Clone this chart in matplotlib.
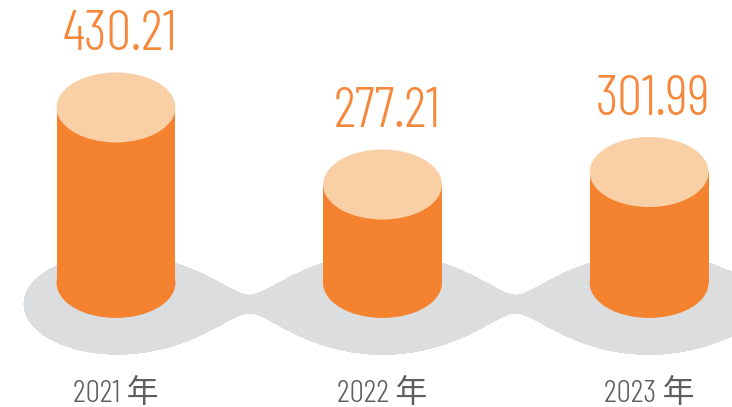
import matplotlib.pyplot as plt
import numpy as np
from matplotlib.patches import Ellipse, Rectangle

years = ["2021 年", "2022 年", "2023 年"]
values = [430.21, 277.21, 301.99]
labels = ["430.21", "277.21", "301.99"]

orange = "#F4822F"
peach = "#F9D0A6"
grey = "#DCDDDF"
label_orange = "#F5883A"

base = 82          # value where the cylinders start
cyl_w = 0.446      # cylinder width in category units
ell_h = 139        # ellipse height in value units

fig = plt.figure(figsize=(7.32, 4.07), dpi=100)
ax = fig.add_axes([0, 0, 1, 1])
ax.set_xlim(-0.435, 2.311)
ax.set_ylim(-164.2, 643.4)
ax.axis("off")

# grey "metaball" band behind the cylinders
# blob half-width 0.345 (cat units), half-height 99 (value units), neck ~18 units
hw, hh, neck = 0.345, 99.0, 18.0
a = np.log(2) / ((0.5 / hw) ** 2 + (neck / hh) ** 2 - 1)
sx, sy, yc = hw / np.sqrt(a), hh / np.sqrt(a), 40.0
xs = np.linspace(-0.5, 2.4, 700)
ys = np.linspace(-170, 650, 500)
X, Y = np.meshgrid(xs, ys)
F = sum(np.exp(-((X - i) / sx) ** 2 - ((Y - yc) / sy) ** 2) for i in range(len(values) + 1))
ax.contourf(X, Y, F, levels=[np.exp(-a), 100], colors=[grey], zorder=1)

for i, v in enumerate(values):
    ax.add_patch(Ellipse((i, base), cyl_w, ell_h, color=orange, lw=0, zorder=2))
    ax.add_patch(Rectangle((i - cyl_w / 2, base), cyl_w, v - base, color=orange, lw=0, zorder=2))
    ax.add_patch(Ellipse((i, v), cyl_w, ell_h, color=peach, lw=0, zorder=3))
    ax.annotate(labels[i], (i, v + ell_h / 2), xytext=(3, 16), textcoords="offset points",
                ha="center", va="baseline", fontsize=40, color=label_orange, weight=300,
                family=["Barlow Condensed", "DejaVu Sans"])
    ax.annotate(years[i], (i, 0.034), xycoords=("data", "axes fraction"),
                ha="center", va="center", fontsize=23, color="#5E5E5E", weight=300,
                family=["Barlow Condensed", "Noto Sans CJK SC"])

fig.savefig("out.png", dpi=100)
